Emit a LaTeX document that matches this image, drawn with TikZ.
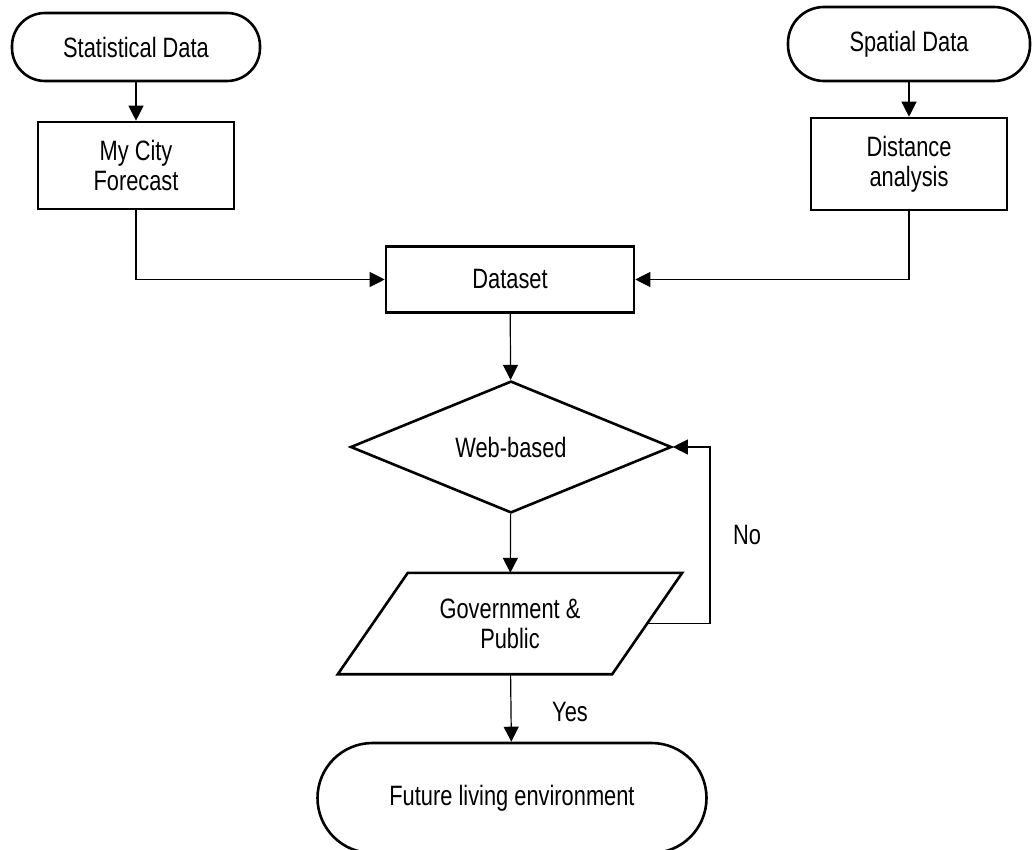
\documentclass[tikz,border=0pt]{standalone}
\usepackage{fontspec}
\setmainfont{Liberation Sans}[FakeStretch=0.78]
\usetikzlibrary{shapes.geometric,arrows.meta}
\begin{document}
\begin{tikzpicture}[x=1pt,y=-1pt,
  every node/.style={font=\fontsize{28}{30}\selectfont, align=center, text=black},
  shapeline/.style={line width=2.6pt, line join=miter},
  term/.style={draw, shapeline, rectangle, rounded corners=#1, inner sep=0pt},
  procbox/.style={draw, shapeline, rectangle, inner sep=0pt},
  decis/.style={draw, shapeline, diamond, inner sep=0pt},
  iotext/.style={rectangle, inner sep=0pt},
  arr/.style={line width=1.2pt, -{Triangle[length=15pt,width=15pt]}},
  lbl/.style={inner sep=0pt}
]
\useasboundingbox (0,0) rectangle (1032,850);
\clip (0,0) rectangle (1032,850);

\node[term=33pt, minimum width=248pt, minimum height=68pt] (sd) at (136,47) {Statistical Data};
\node[term=36pt, minimum width=242pt, minimum height=74pt] (sp) at (909,44) {Spatial Data};
\node[procbox, minimum width=196pt, minimum height=87pt] (mcf) at (136,165.5) {My City\\Forecast};
\node[procbox, minimum width=196pt, minimum height=92pt] (da) at (909,164) {Distance\\analysis};
\node[procbox, minimum width=248pt, minimum height=66pt] (ds) at (510,279.5) {Dataset};
\node[decis, minimum width=321pt, minimum height=130pt] (wb) at (511,447) {Web-based};
\node[iotext, minimum width=274pt, minimum height=101pt] (gp) at (510,623.5) {Government \&\\Public};
\draw[shapeline] ([xshift=35pt]gp.north west) -- ([xshift=35pt]gp.north east)
  -- ([xshift=-35pt]gp.south east) -- ([xshift=-35pt]gp.south west) -- cycle;
\node[term=55pt, minimum width=389pt, minimum height=110pt] (fle) at (512,798) {Future living environment};

\coordinate (fbc) at (710,623.5);
\node[lbl] (no) at (747,535) {No};
\node[lbl] (yes) at (570,712) {Yes};

\draw[arr] (sd) -- (mcf);
\draw[arr] (sp) -- (da);
\draw[arr] (mcf.south) |- (ds.west);
\draw[arr] (da.south) |- (ds.east);
\draw[arr] (ds) -- (wb);
\draw[arr] (wb) -- (gp);
\draw[arr] (gp) -- (fle);
\draw[arr] (gp.east) -- (fbc) |- (wb.east);
\end{tikzpicture}
\end{document}
